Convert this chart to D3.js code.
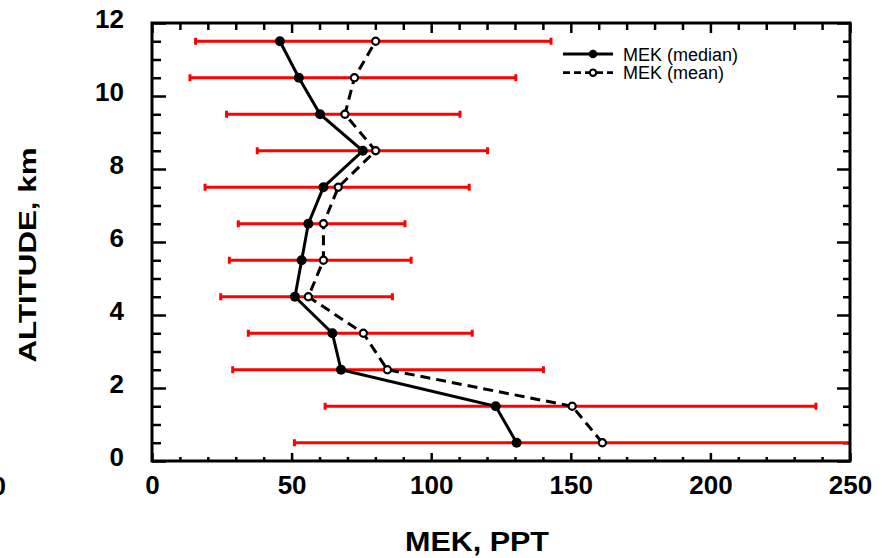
<!DOCTYPE html>
<html>
<head>
<meta charset="utf-8">
<script src="https://cdn.jsdelivr.net/npm/d3@7/dist/d3.min.js"></script>
<style>
  html, body { margin: 0; padding: 0; background: #fff; }
  svg { display: block; font-family: "Liberation Sans", Arial, Helvetica, sans-serif; }
</style>
</head>
<body>
<svg id="chart" width="889" height="558"></svg>
<script>
// ---- data ----
const altitudes = [0.5, 1.5, 2.5, 3.5, 4.5, 5.5, 6.5, 7.5, 8.5, 9.5, 10.5, 11.5];
const medianValues = [130.6, 123.1, 67.7, 64.6, 51.2, 53.6, 56.0, 61.4, 75.5, 60.2, 52.6, 45.8];
const meanValues = [161.3, 150.5, 84.3, 75.7, 56.0, 61.4, 61.4, 66.7, 80.1, 69.1, 72.5, 80.1];
const errLow = [51.0, 62.0, 28.9, 34.5, 24.6, 27.7, 30.9, 19.0, 37.7, 26.7, 13.6, 15.6];
const errHigh = [258, 237.8, 140.2, 114.7, 86.1, 92.8, 90.6, 113.6, 120.2, 110.3, 130.3, 142.9];
const xTickLabels = [0, 50, 100, 150, 200, 250];
const yTickLabels = [0, 2, 4, 6, 8, 10, 12];
const seriesNames = ["MEK (median)", "MEK (mean)"];
const xTitle = "MEK, PPT";
const yTitle = "ALTITUDE, km";

// ---- layout ----
const L = 152, R = 850, T = 23, B = 461;
const svg = d3.select("#chart");
const x = d3.scaleLinear().domain([0, 250]).range([L, R]);
const y = d3.scaleLinear().domain([0, 12]).range([B, T]);
const font = '"Liberation Sans", Arial, Helvetica, sans-serif';

svg.append("defs").append("clipPath").attr("id", "plotclip")
  .append("rect").attr("x", L).attr("y", T).attr("width", R - L).attr("height", B - T);

const xMinor = d3.range(0, 251, 10);
const yMinor = d3.range(0, 12.01, 0.5);

function styleAxis(g, w) {
  g.select(".domain").remove();
  g.selectAll(".tick line").attr("stroke", "#000").attr("stroke-width", w);
}

// bottom axis
svg.append("g").attr("transform", `translate(0,${B})`)
  .call(d3.axisBottom(x).tickValues(xMinor.filter(v => v % 50 !== 0)).tickSize(-4).tickFormat(""))
  .call(g => styleAxis(g, 2.5));
const gxb = svg.append("g").attr("transform", `translate(0,${B})`)
  .call(d3.axisBottom(x).tickValues(xTickLabels).tickSize(-8).tickPadding(15).tickFormat(d3.format("d")))
  .call(g => styleAxis(g, 2.5));
gxb.selectAll("text").attr("font-family", font).attr("font-size", 26).attr("font-weight", "bold").attr("fill", "#000");

// top axis
svg.append("g").attr("transform", `translate(0,${T})`)
  .call(d3.axisTop(x).tickValues(xMinor.filter(v => v % 50 !== 0)).tickSize(-7).tickFormat(""))
  .call(g => styleAxis(g, 2.5));
svg.append("g").attr("transform", `translate(0,${T})`)
  .call(d3.axisTop(x).tickValues(xTickLabels).tickSize(-10).tickFormat(""))
  .call(g => styleAxis(g, 2.5));

// left axis
svg.append("g").attr("transform", `translate(${L},0)`)
  .call(d3.axisLeft(y).tickValues(yMinor.filter(v => v % 2 !== 0)).tickSize(-9).tickFormat(""))
  .call(g => styleAxis(g, 2.5));
const gyl = svg.append("g").attr("transform", `translate(${L},0)`)
  .call(d3.axisLeft(y).tickValues(yTickLabels).tickSize(-14).tickPadding(28).tickFormat(d3.format("d")))
  .call(g => styleAxis(g, 2.5));
gyl.selectAll("text").attr("font-family", font).attr("font-size", 26).attr("font-weight", "bold")
  .attr("fill", "#000").attr("dy", "0.18em");

// right axis
svg.append("g").attr("transform", `translate(${R},0)`)
  .call(d3.axisRight(y).tickValues(yMinor.filter(v => v % 2 !== 0)).tickSize(-7).tickFormat(""))
  .call(g => styleAxis(g, 2.5));
svg.append("g").attr("transform", `translate(${R},0)`)
  .call(d3.axisRight(y).tickValues(yTickLabels).tickSize(-13).tickFormat(""))
  .call(g => styleAxis(g, 2.5));

// ---- error bars ----
const eg = svg.append("g").attr("clip-path", "url(#plotclip)");
altitudes.forEach((a, i) => {
  const yy = y(a);
  eg.append("line").attr("x1", x(errLow[i])).attr("x2", x(errHigh[i]))
    .attr("y1", yy).attr("y2", yy).attr("stroke", "#ff0000").attr("stroke-width", 3);
  [errLow[i], errHigh[i]].forEach(v => {
    eg.append("line").attr("x1", x(v)).attr("x2", x(v))
      .attr("y1", yy - 3.5).attr("y2", yy + 3.5).attr("stroke", "#ff0000").attr("stroke-width", 3);
  });
});

// ---- lines ----
const lineGen = d3.line().x(d => x(d[0])).y(d => y(d[1]));
const medPts = altitudes.map((a, i) => [medianValues[i], a]);
const meanPts = altitudes.map((a, i) => [meanValues[i], a]);

svg.append("path").attr("d", lineGen(meanPts)).attr("fill", "none")
  .attr("stroke", "#000").attr("stroke-width", 3).attr("stroke-dasharray", "10,6");
svg.append("path").attr("d", lineGen(medPts)).attr("fill", "none")
  .attr("stroke", "#000").attr("stroke-width", 3);

svg.selectAll("circle.mean").data(meanPts).enter().append("circle").attr("class", "mean")
  .attr("cx", d => x(d[0])).attr("cy", d => y(d[1])).attr("r", 3.6)
  .attr("fill", "#fff").attr("stroke", "#000").attr("stroke-width", 2.2);
svg.selectAll("circle.med").data(medPts).enter().append("circle").attr("class", "med")
  .attr("cx", d => x(d[0])).attr("cy", d => y(d[1])).attr("r", 5).attr("fill", "#000");

// ---- frame ----
svg.append("rect").attr("x", L).attr("y", T).attr("width", R - L).attr("height", B - T)
  .attr("fill", "none").attr("stroke", "#000").attr("stroke-width", 3);

// ---- legend ----
const lg = svg.append("g");
const legY = [54, 72.7];
lg.append("line").attr("x1", 563).attr("x2", 613).attr("y1", legY[0]).attr("y2", legY[0])
  .attr("stroke", "#000").attr("stroke-width", 2.8);
lg.append("circle").attr("cx", 593).attr("cy", legY[0]).attr("r", 4.3).attr("fill", "#000");
lg.append("line").attr("x1", 563).attr("x2", 613).attr("y1", legY[1]).attr("y2", legY[1])
  .attr("stroke", "#000").attr("stroke-width", 2.8).attr("stroke-dasharray", "7,4");
lg.append("circle").attr("cx", 593).attr("cy", legY[1]).attr("r", 3.2).attr("fill", "#fff")
  .attr("stroke", "#000").attr("stroke-width", 2.2);
seriesNames.forEach((n, i) => {
  lg.append("text").attr("x", 623).attr("y", legY[i] + 6.5).attr("font-family", font)
    .attr("font-size", 18).attr("fill", "#000").text(n);
});

// ---- titles ----
svg.append("text").attr("x", 477).attr("y", 551).attr("text-anchor", "middle")
  .attr("font-family", font).attr("font-size", 27).attr("font-weight", "bold")
  .attr("textLength", 144).attr("lengthAdjust", "spacingAndGlyphs").text(xTitle);
svg.append("text").attr("transform", "translate(36,255) rotate(-90)").attr("text-anchor", "middle")
  .attr("font-family", font).attr("font-size", 24).attr("font-weight", "bold")
  .attr("textLength", 215).attr("lengthAdjust", "spacingAndGlyphs").text(yTitle);

// partially visible label at the left edge, as in the reference
svg.append("text").attr("x", 6).attr("y", 495).attr("text-anchor", "end")
  .attr("font-family", font).attr("font-size", 26).attr("font-weight", "bold").text("0");
</script>
</body>
</html>
